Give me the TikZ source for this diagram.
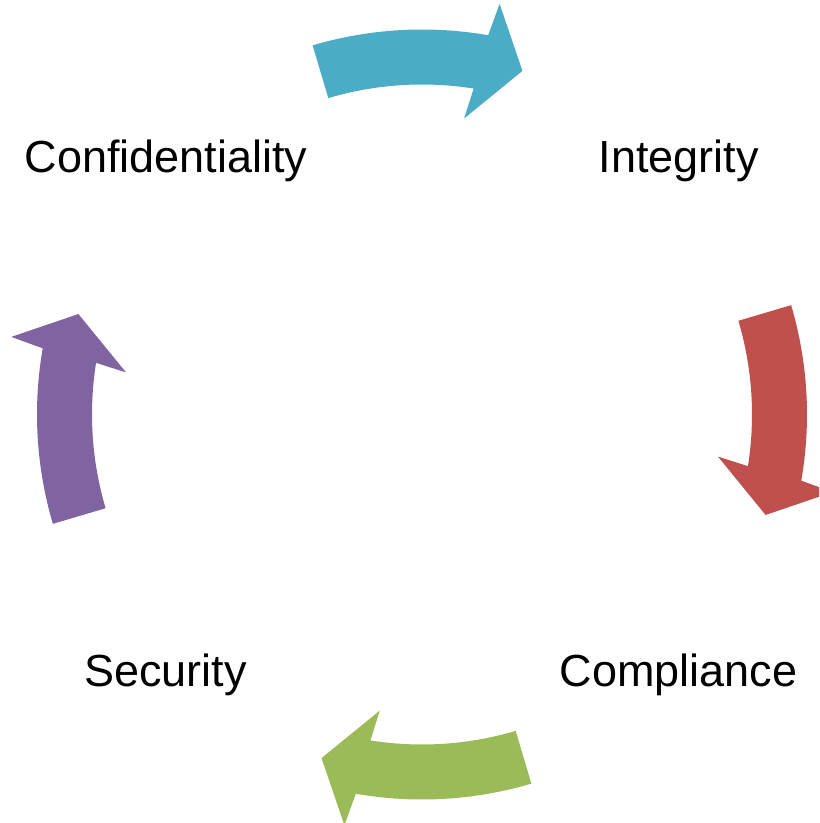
\documentclass[tikz,border=0pt]{standalone}
\usepackage{fontspec}
\setmainfont{Liberation Sans}
\usepackage{tikz}
\usetikzlibrary{calc,positioning}
\definecolor{cycleteal}{RGB}{75,172,198}
\definecolor{cyclered}{RGB}{192,80,77}
\definecolor{cyclegreen}{RGB}{155,187,89}
\definecolor{cyclepurple}{RGB}{128,100,162}

\begin{document}
\begin{tikzpicture}[
  mylabel/.style={inner sep=0pt,anchor=base,font=\fontsize{12.8}{15}\selectfont},
  myarrow/.style={fill=#1,draw=none}
]
\useasboundingbox (-4.22,-4.085) rectangle (3.97,4.145);
\clip (-4.22,-4.085) rectangle (3.97,4.145);
\coordinate (O) at (0,0);

% four curved block arrows round the centre
\foreach \c [count=\i from 0] in {cycleteal,cyclered,cyclegreen,cyclepurple}{
\pgfmathsetmacro{\o}{-90*\i}
\fill[myarrow=\c] ($(O)+(106.5+\o:3.85)$) arc[start angle=106.5+\o, end angle=80.1+\o, radius=3.85]
  -- ($(O)+(79.3+\o:4.18)$) -- ($(O)+(73.7+\o:3.58)$) -- ($(O)+(81.9+\o:2.99)$)
  -- ($(O)+(81.0+\o:3.30)$) arc[start angle=81.0+\o, end angle=106.5+\o, radius=3.30] -- cycle;
}

\node[mylabel] (conf) at (-2.56,2.418) {Confidentiality};
\node[mylabel] (integ) at (2.565,2.418) {Integrity};
\node[mylabel] (compl) at (2.565,-2.722) {Compliance};
\node[mylabel] (secur) at (-2.565,-2.722) {Security};

\end{tikzpicture}
\end{document}
